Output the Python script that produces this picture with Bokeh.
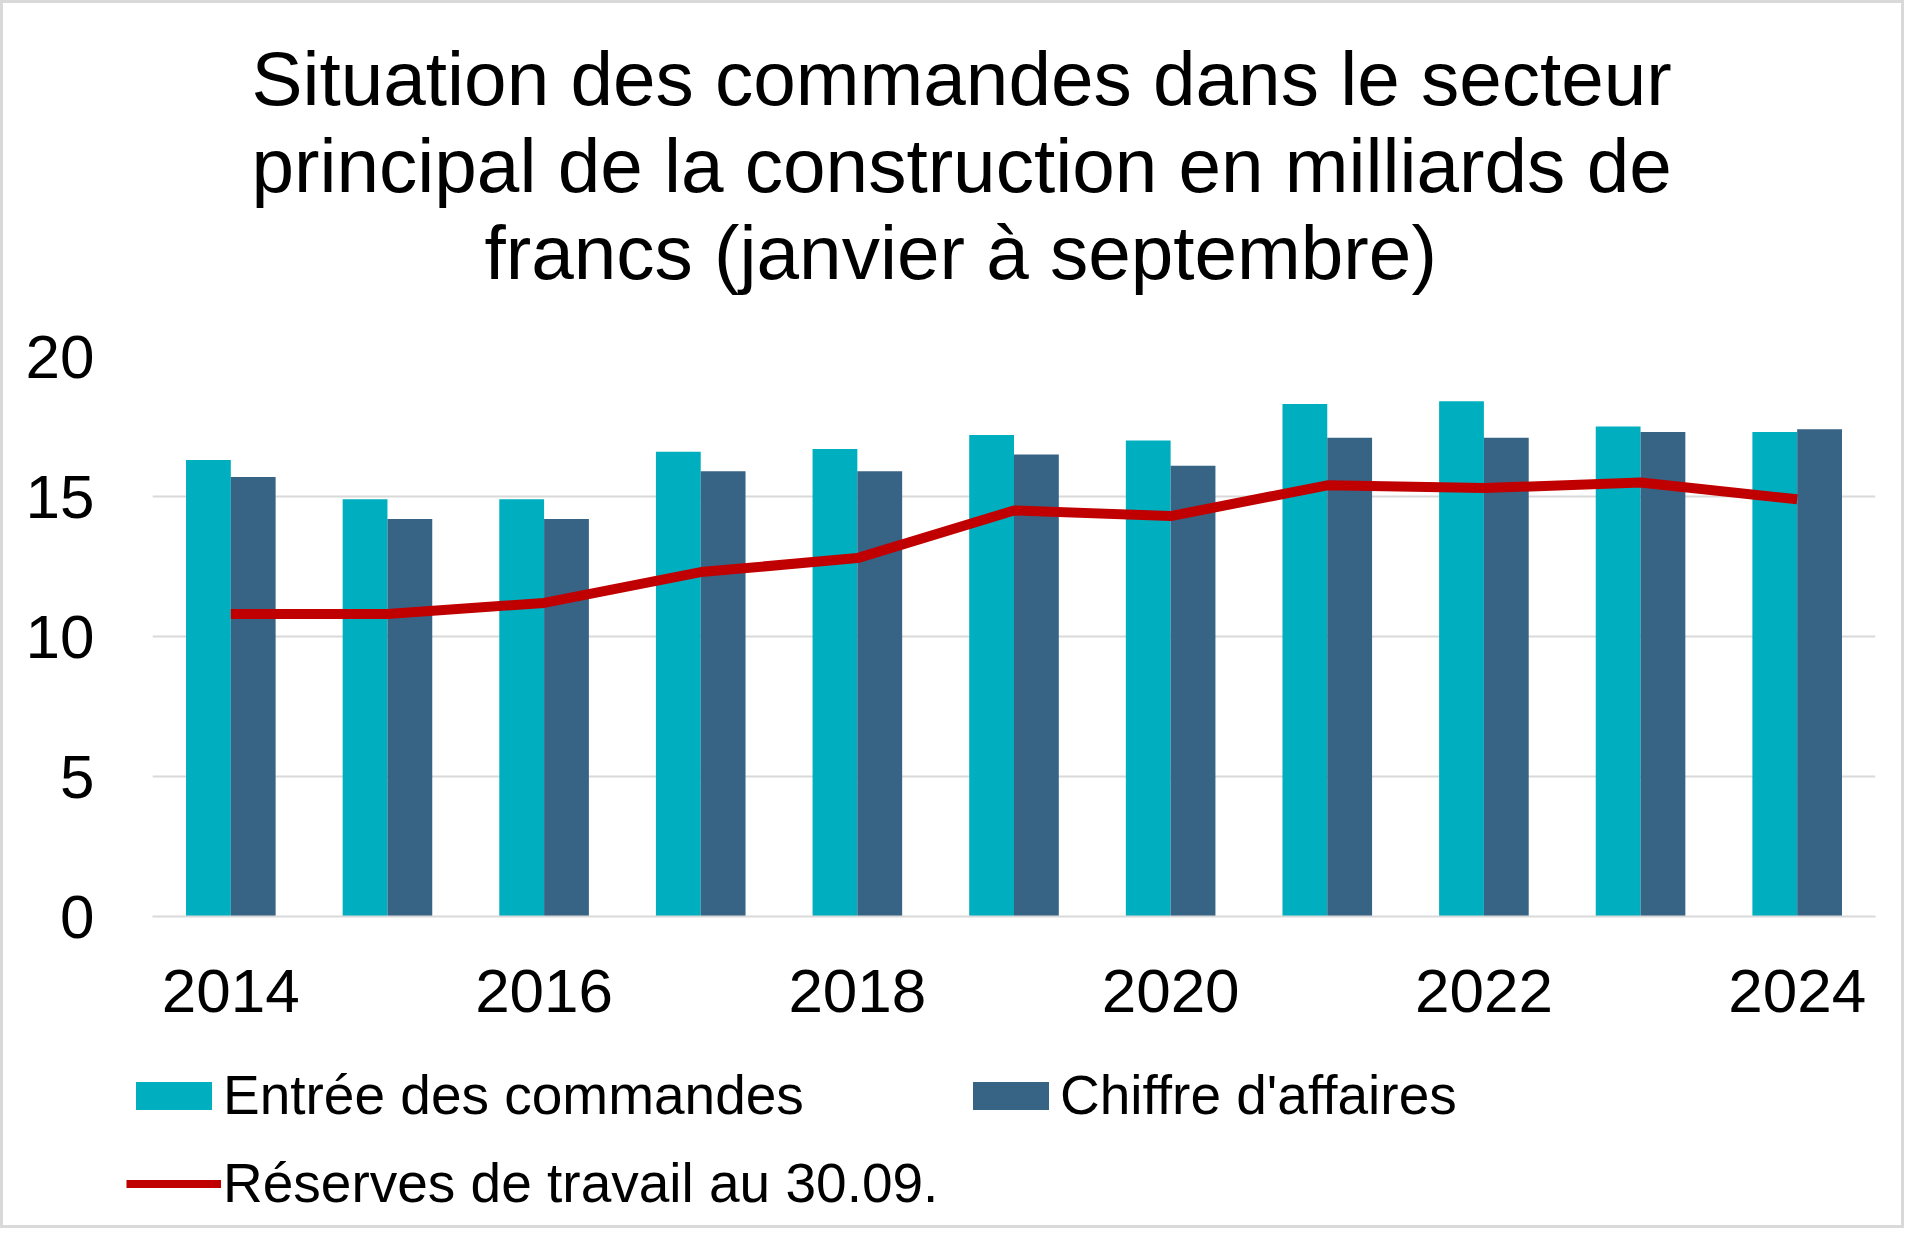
from bokeh.plotting import figure
from bokeh.layouts import column, row
from bokeh.models import (ColumnDataSource, Range1d, FixedTicker, Title, Legend,
                          LegendItem)
from bokeh.transform import dodge
from bokeh.embed import file_html
from bokeh.resources import INLINE

# ---- data ----
years = [2014, 2015, 2016, 2017, 2018, 2019, 2020, 2021, 2022, 2023, 2024]
entree_commandes = [16.3, 14.9, 14.9, 16.6, 16.7, 17.2, 17.0, 18.3, 18.4, 17.5, 17.3]
chiffre_affaires = [15.7, 14.2, 14.2, 15.9, 15.9, 16.5, 16.1, 17.1, 17.1, 17.3, 17.4]
reserves_travail = [10.8, 10.8, 11.2, 12.3, 12.8, 14.5, 14.3, 15.4, 15.3, 15.5, 14.9]
x_ticks = [2014, 2016, 2018, 2020, 2022, 2024]
y_ticks = [0, 5, 10, 15, 20]
title_lines = ["Situation des commandes dans le secteur",
               "principal de la construction en milliards de",
               "francs (janvier à septembre)"]
series_names = ["Entrée des commandes", "Chiffre d'affaires",
                "Réserves de travail au 30.09."]

TEAL = "#00AFBF"
NAVY = "#376384"
RED = "#C00000"
GRID = "#D9D9D9"
FONT = "Liberation Sans"
W = 1898

src = ColumnDataSource(dict(year=years, e=entree_commandes,
                            c=chiffre_affaires, r=reserves_travail))

p = figure(width=W, height=1037, output_backend="svg", toolbar_location=None,
           title=None, x_range=Range1d(2013.5, 2024.5), y_range=Range1d(0, 20),
           min_border_left=149, min_border_right=26,
           min_border_top=353, min_border_bottom=124)
p.outline_line_color = None
p.background_fill_color = "white"
p.border_fill_color = "white"

bw = 0.286
p.vbar(x=dodge("year", -bw / 2, range=p.x_range), top="e", width=bw,
       source=src, fill_color=TEAL, line_color=None)
p.vbar(x=dodge("year", bw / 2, range=p.x_range), top="c", width=bw,
       source=src, fill_color=NAVY, line_color=None)
p.line(x="year", y="r", source=src, line_color=RED, line_width=10,
       line_join="round")

# axes
p.xaxis.ticker = FixedTicker(ticks=x_ticks)
p.yaxis.ticker = FixedTicker(ticks=y_ticks)
for ax in (p.xaxis[0], p.yaxis[0]):
    ax.major_tick_line_color = None
    ax.minor_tick_line_color = None
    ax.major_label_text_font = FONT
    ax.major_label_text_font_size = "62px"
    ax.major_label_text_color = "black"
p.yaxis.axis_line_color = None
p.yaxis.major_label_standoff = 52
p.xaxis.axis_line_color = GRID
p.xaxis.axis_line_width = 2
p.xaxis.major_label_standoff = 47

p.xgrid.grid_line_color = None
p.ygrid.grid_line_color = GRID
p.ygrid.grid_line_width = 2

# spacer between the title block and the plot area
p.add_layout(Title(text=" ", text_font_size="40px", standoff=16), "above")
# titles (last added sits on top); left-aligned with offsets so each line is centred on the page
title_offsets = [99, 99, 332]
for line, off in reversed(list(zip(title_lines, title_offsets))):
    t = Title(text=line, align="left", text_font=FONT, text_font_size="76.5px",
              text_font_style="normal", text_color="black", offset=off,
              standoff=0)
    p.add_layout(t, "above")

# ---- legend panel (same data, drawn far outside its visible range) ----
q = figure(width=W, height=185, output_backend="svg", toolbar_location=None,
           title=None, x_axis_type=None, y_axis_type=None,
           x_range=Range1d(2013.5, 2024.5), y_range=Range1d(30, 31),
           min_border_left=0, min_border_right=0, min_border_top=0,
           min_border_bottom=0)
q.outline_line_color = None
q.grid.visible = False
q.background_fill_color = "white"
q.border_fill_color = "white"
g1 = q.vbar(x="year", top="e", width=bw, source=src, fill_color=TEAL,
            line_color=None)
g2 = q.vbar(x="year", top="c", width=bw, source=src, fill_color=NAVY,
            line_color=None)
g3 = q.line(x="year", y="r", source=src, line_color=RED, line_width=8)

# column-major filling: column 1 = Entrée, Réserves ; column 2 = Chiffre
legend = Legend(items=[LegendItem(label=series_names[0], renderers=[g1]),
                       LegendItem(label=series_names[2], renderers=[g3]),
                       LegendItem(label=series_names[1], renderers=[g2])],
                ncols=2, location=(123, 10), glyph_width=95, glyph_height=35,
                label_standoff=2, label_width=716, spacing=24, padding=0,
                margin=0, label_text_font=FONT, label_text_font_size="55px",
                label_text_color="black", border_line_color=None,
                background_fill_alpha=0)
q.add_layout(legend, "center")

layout = column(p, row(q), spacing=0,
                styles={"border": "3px solid #D9D9D9", "background": "white"})
open("out.html", "w").write(file_html(layout, INLINE))
